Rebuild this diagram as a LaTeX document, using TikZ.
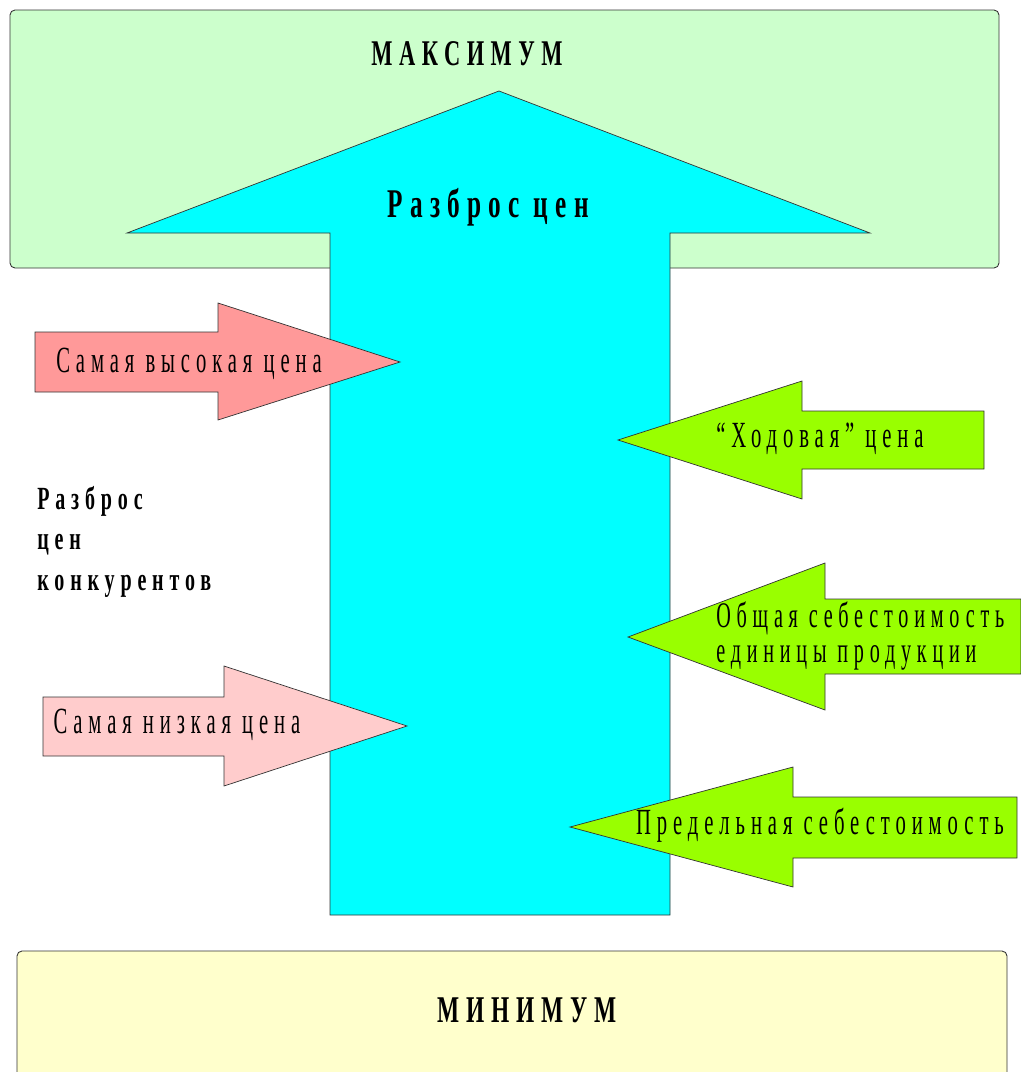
\documentclass[tikz,border=0pt]{standalone}
\usepackage{fontspec}
\setmainfont{Liberation Serif}
\newfontfamily\nf[FakeStretch=0.62, LetterSpace=18]{Liberation Serif}
\newfontfamily\rf[FakeStretch=0.56, LetterSpace=16]{Liberation Serif}
\definecolor{maxgreen}{HTML}{CCFFCC}
\definecolor{minyellow}{HTML}{FFFFCC}
\definecolor{arrowcyan}{HTML}{00FFFF}
\definecolor{salmon}{HTML}{FF9999}
\definecolor{lightpink}{HTML}{FFCCCC}
\definecolor{limeg}{HTML}{99FF00}
\definecolor{edge}{HTML}{333333}
\tikzset{
  box/.style={draw=edge, line width=0.5pt, rounded corners=0.1cm},
  figshape/.style={draw=edge, line width=0.4pt},
  lbl/.style={inner sep=0pt, font=\fontsize{21}{24}\rf},
  blbl/.style={inner sep=0pt, font=\fontsize{20.5}{24}\nf\bfseries},
}
\begin{document}
\begin{tikzpicture}[x=0.02cm, y=-0.02cm]
\useasboundingbox (0,0) rectangle (1021,1072);
\clip (0,0) rectangle (1021,1072);
% boxes
\draw[box, fill=maxgreen] (10,10) rectangle (999,268);
\draw[box, fill=minyellow] (17,951) rectangle (1007,1100);
% big arrow
\draw[figshape, fill=arrowcyan] (499,91) -- (870,233) -- (670,233) -- (670,915) -- (330,915) -- (330,233) -- (127,233) -- cycle;
% left arrows
\draw[figshape, fill=salmon] (35,332) -- (218,332) -- (218,303) -- (400,362) -- (218,420) -- (218,392) -- (35,392) -- cycle;
\draw[figshape, fill=lightpink] (43,697) -- (224,697) -- (224,666) -- (407,726) -- (224,786) -- (224,756) -- (43,756) -- cycle;
% right arrows
\draw[figshape, fill=limeg] (984,411) -- (802,411) -- (802,381) -- (618,440) -- (802,499) -- (802,469) -- (984,469) -- cycle;
\draw[figshape, fill=limeg] (1021,599) -- (825,599) -- (825,563) -- (628,637) -- (825,710) -- (825,674) -- (1021,674) -- cycle;
\draw[figshape, fill=limeg] (1017,797) -- (793,797) -- (793,767) -- (570,827) -- (793,887) -- (793,858) -- (1017,858) -- cycle;
% texts
\node[blbl, font=\fontsize{20.6}{24}\nf\bfseries] (max) at (467,54) {МАКСИМУМ};
\node[blbl, font=\fontsize{23.2}{28}\nf\bfseries, anchor=base] (razbros) at (488,217) {Разброс цен};
\node[lbl, anchor=base] (high) at (189,372) {Самая высокая цена};
\node[lbl, anchor=base] (low) at (177,733) {Самая низкая цена};
\node[lbl, anchor=base] (hod) at (820,447) {“Ходовая” цена};
\node[lbl, anchor=base west, align=left, font=\fontsize{20.5}{19.5}\rf] (obsh) at (716,662) {Общая себестоимость\\единицы продукции};
\node[lbl, anchor=base] (pred) at (820,834) {Предельная себестоимость};
\node[blbl, anchor=base west, align=left, font=\fontsize{18.4}{23}\nf\bfseries] (konk) at (37,590) {Разброс\\цен\\конкурентов};
\node[blbl, font=\fontsize{21.5}{24}\nf\bfseries] (min) at (527,1010) {МИНИМУМ};
\end{tikzpicture}
\end{document}
